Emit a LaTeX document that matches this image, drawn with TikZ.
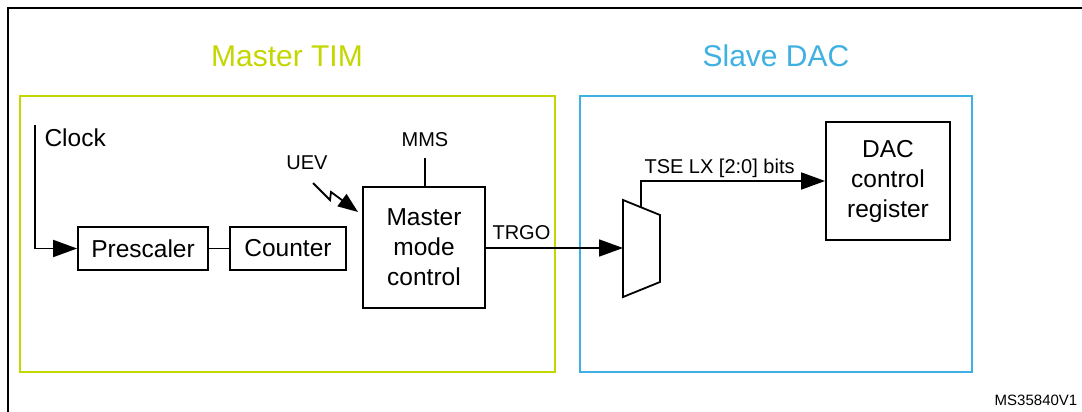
\documentclass[tikz,border=0pt]{standalone}
\usepackage{fontspec}
\setmainfont{Liberation Sans}
\usetikzlibrary{arrows.meta}
\definecolor{timgreen}{RGB}{196,214,0}
\definecolor{dacblue}{RGB}{62,176,226}
\begin{document}
\begin{tikzpicture}[x=1pt,y=-1pt,
    blockbox/.style={draw, line width=1.8pt, inner sep=0pt, align=center,
      font=\fontsize{24.5}{30}\selectfont},
    sig/.style={line width=1.8pt},
    arr/.style={sig, -{Triangle[length=24pt,width=17pt]}},
    small/.style={font=\fontsize{20}{24}\selectfont},
    big/.style={font=\fontsize{30}{36}\selectfont}]
  \useasboundingbox (0,0) rectangle (1082,412);
  % outer frame
  \draw[line width=2.8pt] (8,412) -- (8,8) -- (1082,8);
  % master and slave areas
  \draw[timgreen, line width=2pt] (20,96) rectangle (555,372);
  \draw[dacblue, line width=2pt] (580,96) rectangle (972,372);
  \node[big, text=timgreen] (mtim) at (287,56) {Master TIM};
  \node[big, text=dacblue] (sdac) at (776,56) {Slave DAC};
  % blocks
  \node[blockbox, minimum width=130pt, minimum height=43pt] (presc) at (143,248.5) {Prescaler};
  \node[blockbox, minimum width=116pt, minimum height=43pt] (count) at (288,248.5) {Counter};
  \node[blockbox, minimum width=122pt, minimum height=121pt] (mmc) at (424,247.5) {Master\\mode\\control};
  \node[blockbox, minimum width=124pt, minimum height=118pt] (dacreg) at (888,181) {DAC\\control\\register};
  % mux
  \coordinate (muxlt) at (623,200);
  \coordinate (muxlb) at (623,297);
  \coordinate (muxrb) at (660,282);
  \coordinate (muxrt) at (660,215);
  \draw[sig] (muxlt) -- (muxlb) -- (muxrb) -- (muxrt) -- cycle;
  \coordinate (muxin) at (623,248);
  \coordinate (muxout) at (641,207.5);
  % labels
  \node[font=\fontsize{24.5}{30}\selectfont, anchor=west] (clk) at (41,138) {Clock};
  \node[small] (mms) at (425,140) {MMS};
  \node[small] (uev) at (307,163) {UEV};
  \node[small, anchor=west] (trgo) at (489,233) {TRGO};
  \node[small, anchor=west] (tse) at (641,168) {TSE LX [2:0] bits};
  \node[font=\fontsize{15}{18}\selectfont] (ver) at (1036,400) {MS35840V1};
  % connections
  \coordinate (clktop) at (35,125);
  \draw[arr] (clktop) |- (presc.west);
  \draw[sig] (presc) -- (count);
  \coordinate (mmstop) at (425,158);
  \draw[sig] (mmstop) -- (mmc.north -| mmstop);
  \coordinate (uevs) at (313,183);
  \coordinate (uevt) at (358,212);
  \draw[sig, -{Triangle[length=20pt,width=15pt]}] (uevs) -- (330,200) -- (331,192) -- (uevt);
  \draw[arr] (mmc.east |- muxin) -- (muxin);
  \draw[arr] (muxout) |- (dacreg.west |- 0,181);
\end{tikzpicture}
\end{document}
